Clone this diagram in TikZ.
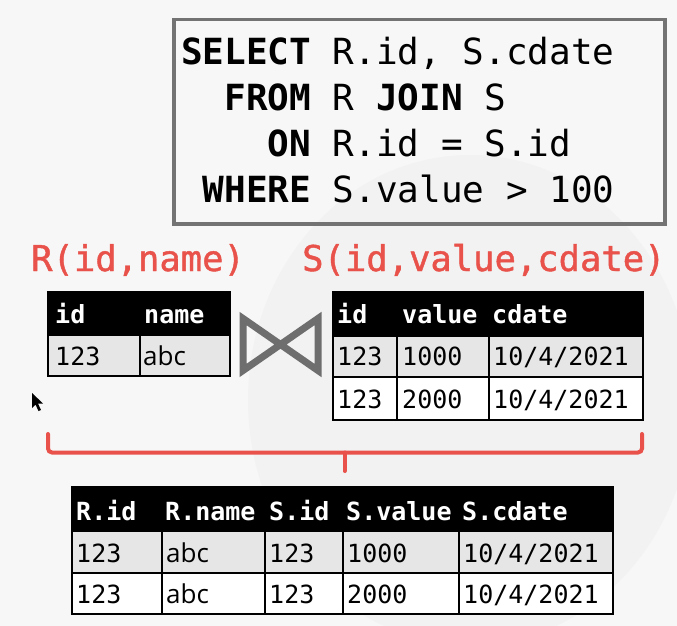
\documentclass[tikz,border=0pt]{standalone}
\usepackage{fontspec}
\setmonofont{DejaVu Sans Mono}
\newfontfamily\abcfont{Open Sans}
\newfontfamily\titlefont{DejaVu Sans Mono}[FakeBold=1.2]
\definecolor{bgc}{HTML}{F7F7F7}
\definecolor{wmgray}{HTML}{F2F2F2}
\definecolor{boxgray}{HTML}{737373}
\definecolor{tiegray}{HTML}{6E6E6E}
\definecolor{rowgray}{HTML}{E6E6E6}
\definecolor{relred}{HTML}{E8524A}
\tikzset{
  sqltext/.style={inner sep=0pt, anchor=base west, font=\ttfamily\fontsize{36}{40}\selectfont},
  titletext/.style={inner sep=0pt, anchor=base west, text=relred, font=\titlefont\fontsize{35.5}{40}\selectfont},
  cellbox/.style={draw=black, line width=2pt, inner sep=0pt, anchor=north west},
  headbox/.style={cellbox, fill=black},
  graybox/.style={cellbox, fill=rowgray},
  whitebox/.style={cellbox, fill=white},
  tabtext/.style={inner sep=0pt, anchor=base west, font=\ttfamily\fontsize{25}{28}\selectfont},
  headtext/.style={tabtext, text=white, font=\ttfamily\bfseries\fontsize{25}{28}\selectfont},
  abctext/.style={inner sep=0pt, anchor=base west, font=\abcfont\fontsize{26}{30}\selectfont},
  brace/.style={draw=relred, line width=4pt, rounded corners=4pt, line cap=round},
}
\begin{document}
\begin{tikzpicture}[x=1pt,y=-1pt]
\useasboundingbox (0,0) rectangle (677,626);
\fill[bgc] (0,0) rectangle (677,626);
% faint watermark
\fill[wmgray] (470,400) ellipse [x radius=222, y radius=245];

% SQL box
\node[draw=boxgray, line width=3.5pt, minimum width=491pt, minimum height=204pt, inner sep=0pt, anchor=north west] (sqlbox) at (172,18) {};
\node[sqltext] (q1) at (181,64) {\textbf{SELECT} R.id, S.cdate};
\node[sqltext] (q2) at (181,110) {\hphantom{SE}\textbf{FROM} R \textbf{JOIN} S};
\node[sqltext] (q3) at (181,156) {\hphantom{SELE}\textbf{ON} R.id = S.id};
\node[sqltext] (q4) at (181,202) {\hphantom{S}\textbf{WHERE} S.value > 100};

% titles
\node[titletext] (rtitle) at (31,271) {R(id,name)};
\node[titletext] (stitle) at (302,271) {S(id,value,cdate)};

% R table
\node[headbox, minimum width=182pt, minimum height=43pt] (rhead) at (47,291) {};
\node[graybox, minimum width=92pt, minimum height=41pt] (r11) at (47,334) {};
\node[graybox, minimum width=90pt, minimum height=41pt] (r12) at (139,334) {};
\node[headtext] (rh1) at (55,323) {id};
\node[headtext] (rh2) at (144,323) {name};
\node[tabtext] (rc1) at (55,365) {123};
\node[abctext] (rc2) at (143,365) {abc};

% bowtie
\draw[tiegray, line width=7pt, line join=miter] (243,318.5) -- (243,370.5) -- (318,318.5) -- (318,370.5) -- cycle;

% S table
\node[headbox, minimum width=310pt, minimum height=44pt] (shead) at (332,290.5) {};
\node[graybox, minimum width=64pt, minimum height=41pt] (s11) at (332,334.5) {};
\node[graybox, minimum width=92pt, minimum height=41pt] (s12) at (396,334.5) {};
\node[graybox, minimum width=154pt, minimum height=41pt] (s13) at (488,334.5) {};
\node[whitebox, minimum width=64pt, minimum height=43pt] (s21) at (332,375.5) {};
\node[whitebox, minimum width=92pt, minimum height=43pt] (s22) at (396,375.5) {};
\node[whitebox, minimum width=154pt, minimum height=43pt] (s23) at (488,375.5) {};
\node[headtext] (sh1) at (337,323) {id};
\node[headtext] (sh2) at (402,323) {value};
\node[headtext] (sh3) at (492,323) {cdate};
\node[tabtext] (sc11) at (337,365) {123};
\node[tabtext] (sc12) at (402,365) {1000};
\node[tabtext] (sc13) at (493,365) {10/4/2021};
\node[tabtext] (sc21) at (337,408) {123};
\node[tabtext] (sc22) at (402,408) {2000};
\node[tabtext] (sc23) at (493,408) {10/4/2021};

% brace
\coordinate (bl) at (48,434);
\coordinate (br) at (642,434);
\coordinate (bm) at (344.5,452.5);
\coordinate (bt) at (344.5,471);
\draw[brace] (bl) |- (bm) -| (br);
\draw[draw=relred, line width=4pt, line cap=round] (bm) -- (bt);

% result table
\node[headbox, minimum width=541pt, minimum height=44pt] (thead) at (71,486) {};
\node[graybox, minimum width=90pt, minimum height=42pt] (t11) at (71,530) {};
\node[graybox, minimum width=103pt, minimum height=42pt] (t12) at (161,530) {};
\node[graybox, minimum width=78pt, minimum height=42pt] (t13) at (264,530) {};
\node[graybox, minimum width=116pt, minimum height=42pt] (t14) at (342,530) {};
\node[graybox, minimum width=154pt, minimum height=42pt] (t15) at (458,530) {};
\node[whitebox, minimum width=90pt, minimum height=41pt] (t21) at (71,572) {};
\node[whitebox, minimum width=103pt, minimum height=41pt] (t22) at (161,572) {};
\node[whitebox, minimum width=78pt, minimum height=41pt] (t23) at (264,572) {};
\node[whitebox, minimum width=116pt, minimum height=41pt] (t24) at (342,572) {};
\node[whitebox, minimum width=154pt, minimum height=41pt] (t25) at (458,572) {};
\node[headtext] (th1) at (76,520) {R.id};
\node[headtext] (th2) at (165,520) {R.name};
\node[headtext] (th3) at (269,520) {S.id};
\node[headtext] (th4) at (346,520) {S.value};
\node[headtext] (th5) at (462,520) {S.cdate};
\node[tabtext] (tc11) at (76,562) {123};
\node[abctext] (tc12) at (166,562) {abc};
\node[tabtext] (tc13) at (269,562) {123};
\node[tabtext] (tc14) at (347,562) {1000};
\node[tabtext] (tc15) at (463,562) {10/4/2021};
\node[tabtext] (tc21) at (76,603) {123};
\node[abctext] (tc22) at (166,603) {abc};
\node[tabtext] (tc23) at (269,603) {123};
\node[tabtext] (tc24) at (347,603) {2000};
\node[tabtext] (tc25) at (463,603) {10/4/2021};

% mouse pointer
\fill[black] (32,393) -- (32,408) -- (35.5,404.5) -- (38.5,411) -- (41,410) -- (38,403.5) -- (43,403.5) -- cycle;
\end{tikzpicture}
\end{document}
